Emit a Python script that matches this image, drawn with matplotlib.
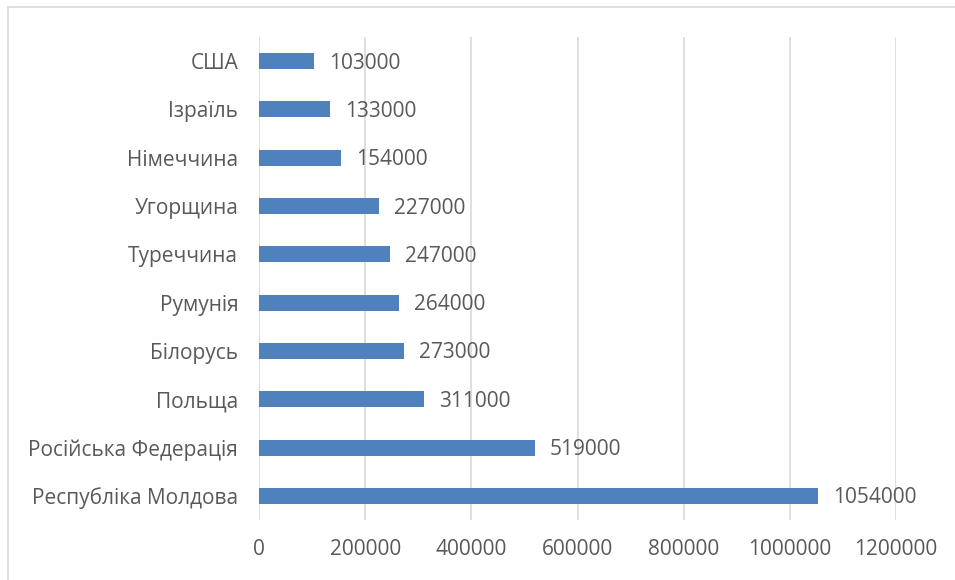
import matplotlib
matplotlib.use("Agg")
import matplotlib.pyplot as plt
from matplotlib.patches import Rectangle

countries = ["Республіка Молдова", "Російська Федерація", "Польща", "Білорусь",
             "Румунія", "Туреччина", "Угорщина", "Німеччина", "Ізраїль", "США"]
values = [1054000, 519000, 311000, 273000, 264000, 247000, 227000, 154000, 133000, 103000]
xticks = [0, 200000, 400000, 600000, 800000, 1000000, 1200000]

plt.rcParams['font.family'] = ['Open Sans', 'DejaVu Sans']
txt = '#595959'
fs = 15

fig = plt.figure(figsize=(9.55, 5.80), dpi=100)
fig.patches.append(Rectangle((8/955, -0.1), 1.2, 1 - 7/580 + 0.1, transform=fig.transFigure,
                             fill=False, edgecolor='#d9d9d9', linewidth=1.2))
ax = fig.add_axes([259/955, 1 - 520/580, (896 - 259)/955, (520 - 37)/580])
y = list(range(len(countries)))
ax.barh(y, values, height=0.33, color='#4F81BD', zorder=3)
for yi, v in zip(y, values):
    ax.annotate(str(v), (v, yi), xytext=(15, -2), textcoords='offset pixels',
                va='center', ha='left', fontsize=fs, color=txt)
ax.set_xlim(0, 1200000)
ax.set_ylim(-0.5, len(countries) - 0.5)
ax.set_xticks(xticks)
ax.set_xticklabels([str(t) for t in xticks], fontsize=fs, color=txt)
ax.set_yticks(y)
ax.set_yticklabels(countries, fontsize=fs, color=txt)
ax.tick_params(axis='y', length=0, pad=15)
ax.tick_params(axis='x', length=0, pad=14)
ax.grid(axis='x', color='#d9d9d9', linewidth=1.2, zorder=0)
for s in ax.spines.values():
    s.set_visible(False)
fig.savefig('out.png', dpi=100)
